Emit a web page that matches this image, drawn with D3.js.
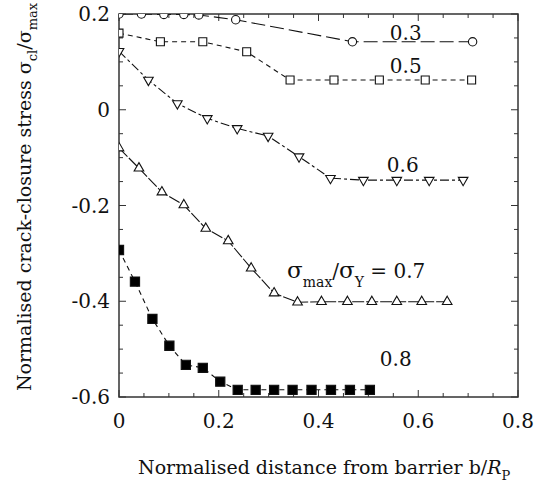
<!DOCTYPE html>
<html>
<head>
<meta charset="utf-8">
<script src="https://cdn.jsdelivr.net/npm/d3@7"></script>
<style>
  body { margin: 0; background: #fff; }
  svg text { font-family: "DejaVu Serif", serif; }
</style>
</head>
<body>
<div id="chart"></div>
<script>
// series: x = b/R_P, y = sigma_cl/sigma_max
const x03 = [0, 0.045, 0.09, 0.13, 0.16, 0.234, 0.468, 0.709]
const y03 = [0.2, 0.2, 0.199, 0.199, 0.198, 0.188, 0.142, 0.142]

const x05 = [0, 0.083, 0.168, 0.256, 0.343, 0.431, 0.522, 0.614, 0.707]
const y05 = [0.16, 0.142, 0.142, 0.121, 0.062, 0.062, 0.062, 0.062, 0.062]

const x06 = [0, 0.059, 0.117, 0.177, 0.237, 0.299, 0.361, 0.424, 0.49, 0.557, 0.622, 0.69]
const y06 = [0.122, 0.062, 0.013, -0.018, -0.039, -0.055, -0.098, -0.143, -0.147, -0.147, -0.147, -0.147]

const x07 = [0, 0.04, 0.086, 0.13, 0.174, 0.219, 0.265, 0.311, 0.358, 0.406, 0.458, 0.507, 0.557, 0.607, 0.658]
const y07 = [-0.08, -0.122, -0.172, -0.199, -0.248, -0.274, -0.331, -0.383, -0.402, -0.401, -0.401, -0.401, -0.401, -0.401, -0.401]

const x08 = [0, 0.032, 0.067, 0.101, 0.134, 0.168, 0.203, 0.238, 0.274, 0.311, 0.348, 0.386, 0.425, 0.463, 0.503]
const y08 = [-0.293, -0.359, -0.437, -0.493, -0.533, -0.539, -0.568, -0.585, -0.585, -0.585, -0.585, -0.585, -0.585, -0.585, -0.585]

const xTicks = [0, 0.2, 0.4, 0.6, 0.8]
const yTicks = [0.2, 0, -0.2, -0.4, -0.6]

const width = 534
const height = 485
const margin = { top: 14, right: 16, bottom: 88, left: 119 }
const iw = width - margin.left - margin.right
const ih = height - margin.top - margin.bottom

const x = d3.scaleLinear().domain([0, 0.8]).range([0, iw])
const y = d3.scaleLinear().domain([-0.6, 0.2]).range([ih, 0])
const fmt = (d) => d3.format('~g')(d).replace('−', '-')

const svg = d3
  .select('#chart')
  .append('svg')
  .attr('width', width)
  .attr('height', height)
  .attr('fill', '#111')

const g = svg.append('g').attr('transform', `translate(${margin.left},${margin.top})`)

svg.append('defs')
  .append('clipPath')
  .attr('id', 'plot')
  .append('rect')
  .attr('width', iw)
  .attr('height', ih)

// ticks on all four sides, pointing inwards
const minorX = d3.range(0, 0.8001, 0.05)
const minorY = d3.range(-0.6, 0.2001, 0.05)
const isMajor = (v) => Math.abs(v / 0.2 - Math.round(v / 0.2)) < 1e-6

const tk = g.append('g').attr('stroke', '#333').attr('stroke-width', 1)
minorX.forEach((v) => {
  const len = isMajor(v) ? 7 : 4
  tk.append('line').attr('x1', x(v)).attr('x2', x(v)).attr('y1', ih).attr('y2', ih - len)
  tk.append('line').attr('x1', x(v)).attr('x2', x(v)).attr('y1', 0).attr('y2', len)
})
minorY.forEach((v) => {
  const len = isMajor(v) ? 7 : 4
  tk.append('line').attr('y1', y(v)).attr('y2', y(v)).attr('x1', 0).attr('x2', len)
  tk.append('line').attr('y1', y(v)).attr('y2', y(v)).attr('x1', iw).attr('x2', iw - len)
})

g.append('rect')
  .attr('width', iw)
  .attr('height', ih)
  .attr('fill', 'none')
  .attr('stroke', '#333')
  .attr('stroke-width', 1.5)

// tick labels
g.selectAll('.xl')
  .data(xTicks)
  .join('text')
  .attr('x', (d) => x(d))
  .attr('y', ih + 31)
  .attr('text-anchor', 'middle')
  .attr('font-size', 20)
  .text(fmt)

g.selectAll('.yl')
  .data(yTicks)
  .join('text')
  .attr('x', -9)
  .attr('y', (d) => y(d))
  .attr('dy', '0.35em')
  .attr('text-anchor', 'end')
  .attr('font-size', 20)
  .text(fmt)

// series
const series = [
  { xs: x03, ys: y03, shape: 'circle', dash: '14,5' },
  { xs: x05, ys: y05, shape: 'square', dash: '5,4' },
  { xs: x06, ys: y06, shape: 'down', dash: '9,3,3,3' },
  { xs: x07, ys: y07, shape: 'up', dash: '12,2' },
  { xs: x08, ys: y08, shape: 'filled', dash: '5,4' },
]

const line = d3.line().x((d) => x(d[0])).y((d) => y(d[1]))
const plot = g.append('g').attr('clip-path', 'url(#plot)')

series.forEach((s) => {
  const pts = s.xs.map((v, i) => [v, s.ys[i]])
  plot.append('path')
    .attr('d', line(pts))
    .attr('fill', 'none')
    .attr('stroke', '#111')
    .attr('stroke-width', 1.1)
    .attr('stroke-dasharray', s.dash)

  const sym = {
    circle: d3.symbol(d3.symbolCircle, 55),
    square: d3.symbol(d3.symbolSquare, 64),
    filled: d3.symbol(d3.symbolSquare, 85),
    up: d3.symbol(d3.symbolTriangle, 40),
    down: d3.symbol(d3.symbolTriangle, 40),
  }[s.shape]

  plot.selectAll(null)
    .data(pts)
    .join('path')
    .attr('d', sym)
    .attr('transform', (d) => `translate(${x(d[0])},${y(d[1])})` + (s.shape === 'down' ? ' rotate(180)' : ''))
    .attr('fill', s.shape === 'filled' ? '#000' : '#fff')
    .attr('stroke', '#111')
    .attr('stroke-width', 1.1)
})

// curve labels
const labels = [
  { t: '0.3', x: 0.543, y: 0.146 },
  { t: '0.5', x: 0.543, y: 0.077 },
  { t: '0.6', x: 0.537, y: -0.13 },
  { t: '0.8', x: 0.523, y: -0.535 },
]
g.selectAll('.lab')
  .data(labels)
  .join('text')
  .attr('x', (d) => x(d.x))
  .attr('y', (d) => y(d.y))
  .attr('font-size', 20)
  .text((d) => d.t)

const l7 = g.append('text')
  .attr('x', x(0.337))
  .attr('y', y(-0.351))
  .attr('font-size', 20)
l7.append('tspan').attr('font-size', 23).text('σ')
l7.append('tspan').attr('font-size', 14).attr('dy', 9).text('max')
l7.append('tspan').attr('dy', -9).text('/')
l7.append('tspan').attr('font-size', 23).text('σ')
l7.append('tspan').attr('font-size', 14).attr('dy', 9).text('Y')
l7.append('tspan').attr('dy', -9).text(' = 0.7')

// axis titles
const xt = svg.append('text')
  .attr('x', 138)
  .attr('y', 474)
  .attr('font-size', 19)
xt.append('tspan').text('Normalised distance from barrier  b/')
xt.append('tspan').attr('font-style', 'italic').text('R')
xt.append('tspan').attr('font-size', 13).attr('dy', 6).text('P')

const yt = svg.append('text')
  .attr('transform', 'translate(31,197) rotate(-90)')
  .attr('text-anchor', 'middle')
  .attr('font-size', 19)
yt.append('tspan').text('Normalised crack-closure stress  σ')
yt.append('tspan').attr('font-size', 13).attr('dy', 6).text('cl')
yt.append('tspan').attr('dy', -6).text('/σ')
yt.append('tspan').attr('font-size', 13).attr('dy', 6).text('max')
</script>
</body>
</html>
